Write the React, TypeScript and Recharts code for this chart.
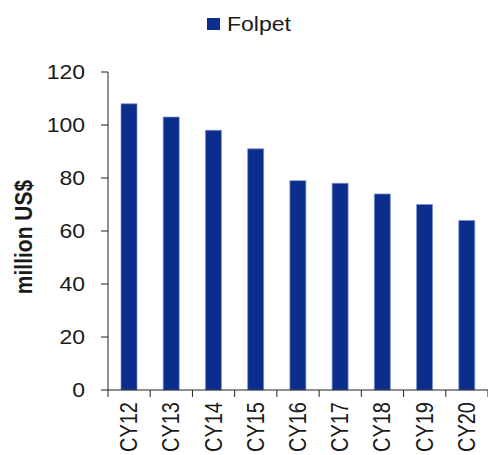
import React from "react";
import { BarChart, Bar, XAxis, YAxis, Legend } from "recharts";

const years = ["CY12", "CY13", "CY14", "CY15", "CY16", "CY17", "CY18", "CY19", "CY20"];
const folpet = [108, 103, 98, 91, 79, 78, 74, 70, 64];
const yTicks = [0, 20, 40, 60, 80, 100, 120];

const data = years.map((year, i) => ({ year, folpet: folpet[i] }));

const W = 488;
const H = 455;
const LEFT = 108;
const BAND = (W - LEFT) / years.length;
const STRETCH = 1.15;
const FONT = "Arial, 'Liberation Sans', sans-serif";
const INK = "#1a1a1a";
const BLUE = "#0b2e8c";

const YTick = ({ x, y, payload }: any) => (
    <text
        transform={`translate(${x},${y}) scale(${STRETCH},1)`}
        textAnchor="end"
        dy="0.35em"
        fontSize={20}
        fontFamily={FONT}
        fill={INK}
    >
        {payload.value}
    </text>
);

const XTick = ({ x, y, payload, index }: any) => (
    <g>
        <line x1={x - BAND / 2} x2={x - BAND / 2} y1={y} y2={y + 7} stroke="#222" />
        {index === years.length - 1 && (
            <line x1={x + BAND / 2} x2={x + BAND / 2} y1={y} y2={y + 7} stroke="#222" />
        )}
        <text
            transform={`translate(${x},${y + 12}) scale(${STRETCH},1) rotate(-90)`}
            textAnchor="end"
            dy="0.35em"
            fontSize={20}
            fontFamily={FONT}
            fill={INK}
        >
            {payload.value}
        </text>
    </g>
);

const YLabel = ({ viewBox }: any) => {
    const cy = viewBox.y + viewBox.height / 2 + 6;
    return (
        <text
            transform={`translate(32,${cy}) scale(${STRETCH},1) rotate(-90)`}
            textAnchor="middle"
            fontSize={21}
            fontWeight="bold"
            fontFamily={FONT}
            fill={INK}
        >
            million US$
        </text>
    );
};

const LegendBox = () => (
    <div style={{ height: 40, width: W, position: "relative", fontFamily: FONT }}>
        <span
            style={{
                position: "absolute",
                left: 207,
                top: 18,
                width: 13,
                height: 12,
                background: BLUE,
            }}
        />
        <span
            style={{
                position: "absolute",
                left: 227,
                top: 12,
                fontSize: 20,
                lineHeight: "24px",
                color: INK,
                transform: `scaleX(${STRETCH})`,
                transformOrigin: "left center",
            }}
        >
            Folpet
        </span>
    </div>
);

export default function App() {
    return (
        <div style={{ position: "absolute", left: 0, top: 0, background: "#fff" }}>
            <BarChart
                width={W}
                height={H}
                data={data}
                margin={{ top: 32, right: 0, bottom: 0, left: 0 }}
            >
                <Legend
                    verticalAlign="top"
                    content={<LegendBox />}
                    wrapperStyle={{ top: 0, left: 0 }}
                />
                <XAxis
                    dataKey="year"
                    height={65}
                    interval={0}
                    tickSize={0}
                    tickMargin={0}
                    tickLine={false}
                    axisLine={{ stroke: "#222" }}
                    tick={<XTick />}
                />
                <YAxis
                    width={LEFT}
                    domain={[0, 120]}
                    ticks={yTicks}
                    interval={0}
                    tickSize={7}
                    tickMargin={16}
                    axisLine={{ stroke: "#222" }}
                    tickLine={{ stroke: "#222" }}
                    tick={<YTick />}
                    label={<YLabel />}
                />
                <Bar
                    dataKey="folpet"
                    name="Folpet"
                    fill={BLUE}
                    stroke="#7d93d0"
                    strokeWidth={0.7}
                    barSize={16}
                    isAnimationActive={false}
                />
            </BarChart>
        </div>
    );
}
